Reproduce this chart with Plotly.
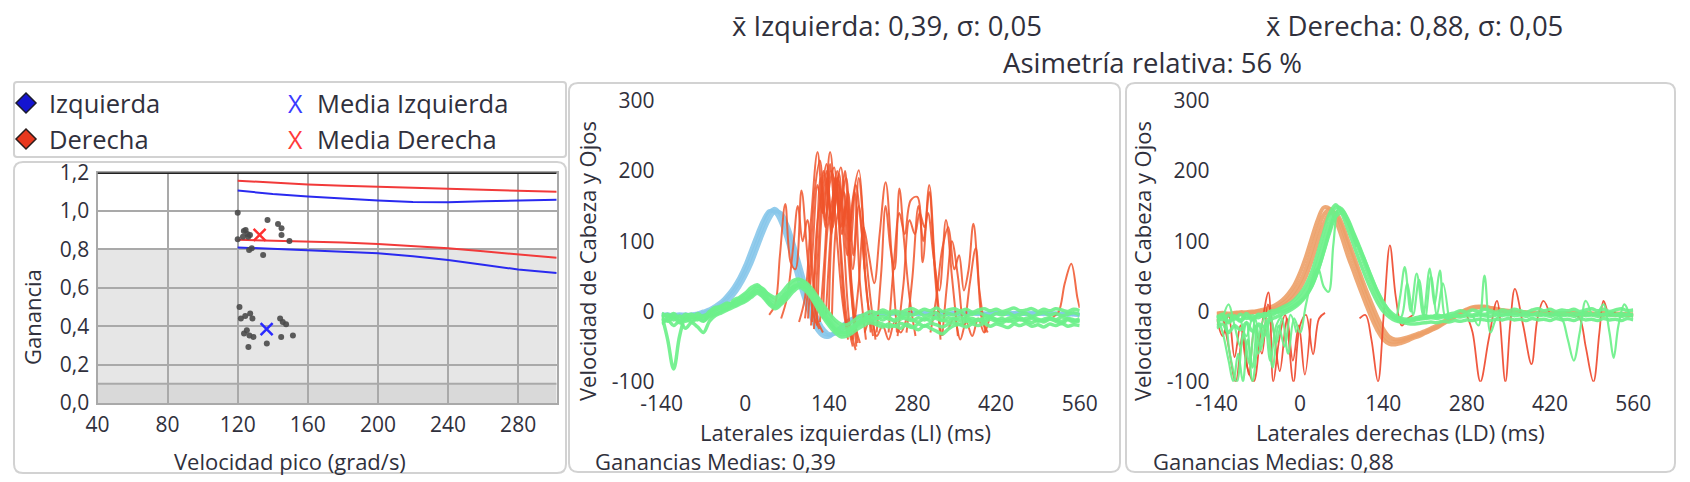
import plotly.graph_objects as go

W, H = 1690, 482
def px(x): return x / W
def py(y): return 1 - y / H

FONT = "Open Sans"
TXT = "#30303c"

# ---------------- data: left panel (gain vs peak head velocity) ----------------
izq_vel  = [121, 121.8, 124.3, 127.1, 128.4, 125.2, 126.7, 129, 126.1, 136.6, 144.2, 145.7, 147.6, 144.8, 151.5, 123.6]
izq_gain = [0.50, 0.44, 0.453, 0.466, 0.44, 0.379, 0.352, 0.344, 0.292, 0.31, 0.44, 0.422, 0.41, 0.344, 0.352, 0.362]
der_vel  = [120, 123.5, 124.5, 125.5, 126, 127, 123, 137, 143, 145, 145, 149.5, 120, 126.5, 128, 134.5]
der_gain = [0.99, 0.895, 0.90, 0.88, 0.866, 0.875, 0.866, 0.953, 0.932, 0.91, 0.875, 0.843, 0.853, 0.797, 0.805, 0.77]
media_izq = [136.5, 0.385]
media_der = [132.5, 0.875]
line_vel  = [120, 140, 160, 180, 200, 220, 240, 260, 280, 302]
der_upper = [1.157, 1.147, 1.138, 1.131, 1.125, 1.12, 1.115, 1.11, 1.105, 1.10]
izq_upper = [1.106, 1.088, 1.075, 1.063, 1.054, 1.047, 1.045, 1.05, 1.055, 1.058]
der_lower = [0.85, 0.846, 0.842, 0.836, 0.828, 0.818, 0.805, 0.79, 0.773, 0.756]
izq_lower = [0.81, 0.803, 0.796, 0.788, 0.779, 0.764, 0.744, 0.72, 0.695, 0.677]
vel_ticks  = [40, 80, 120, 160, 200, 240, 280]
gain_ticks = [0.0, 0.2, 0.4, 0.6, 0.8, 1.0, 1.2]
gain_ticktext = ["0,0", "0,2", "0,4", "0,6", "0,8", "1,0", "1,2"]

# ---------------- data: impulse traces (time in ms, velocity in deg/s) ----------------
T = list(range(-140, 561, 10))
time_ticks = [-140, 0, 140, 280, 420, 560]
time_ticktext = ["-140", "0", "140", "280", "420", "560"]
vel_ticks_imp = [-100, 0, 100, 200, 300]
vel_ticktext_imp = ["-100", "0", "100", "200", "300"]

# Left impulses: head (light blue)
li_head_1 = [-6,-5,-7,-6,-5,-5,-4,-2,1,5,
             11,19,29,42,58,78,100,122,140,146,
             137,116,88,58,28,3,-18,-30,-34,-30,
             -23,-16,-10,-7,-5,-4,-4,-3,-3,-3,
             -4,-3,-2,-3,-3,-2,-3,-4,-3,-2,
             -3,-3,-2,-3,-4,-3,-2,-3,-3,-2,
             -3,-4,-3,-3,-2,-3,-4,-3,-3,-4,
             -5]
li_head_2 = [-4,-6,-5,-4,-6,-4,-3,0,3,8,
             14,23,34,48,66,88,110,130,143,141,
             126,102,72,42,15,-8,-26,-35,-36,-30,
             -22,-15,-10,-7,-5,-4,-3,-4,-3,-2,
             -3,-4,-3,-3,-2,-3,-4,-2,-3,-3,
             -4,-3,-2,-3,-3,-4,-3,-2,-3,-3,
             -4,-3,-2,-3,-4,-3,-3,-4,-5,-4,
             -4]
li_head_3 = [-5,-4,-6,-5,-4,-6,-5,-3,-1,2,
             7,14,23,35,50,68,90,112,131,142,
             140,124,99,70,40,14,-8,-24,-32,-32,
             -27,-20,-14,-9,-6,-5,-4,-3,-4,-3,
             -2,-3,-3,-4,-2,-3,-3,-2,-4,-3,
             -3,-2,-3,-4,-3,-3,-2,-3,-4,-3,
             -2,-3,-4,-3,-2,-3,-3,-4,-3,-4,
             -5]
# Left impulses: eye (green)
li_eye_1 = [-8,-4,-12,-6,-14,-8,-12,-6,-4,2,
            6,10,12,15,20,26,33,28,16,11,
            18,30,40,45,40,28,14,0,-12,-22,
            -28,-27,-22,-15,-10,-6,-3,-1,-4,-2,
            -6,-3,-5,-2,-6,-4,-2,-7,-3,-5,
            -1,-6,-4,-2,-5,-7,-3,-5,-2,-6,
            -4,-3,-7,-4,-2,-5,-3,-6,-4,-2,
            -5]
li_eye_2 = [-14,-10,-6,-13,-9,-12,-7,-10,-6,-2,
            2,7,13,18,24,30,36,32,22,15,
            20,27,35,40,37,30,18,6,-6,-16,
            -23,-24,-20,-14,-9,-8,-10,-7,-11,-12,
            -8,-11,-13,-9,-12,-8,-10,-13,-9,-11,
            -8,-12,-10,-13,-9,-8,-11,-13,-10,-8,
            -12,-10,-8,-11,-13,-10,-12,-8,-11,-13,
            -10]
li_eye_3 = [-5,-40,-82,-35,-8,-4,-9,-14,-3,4,
            8,12,8,12,16,22,28,22,12,8,
            15,24,34,38,33,22,8,-5,-16,-26,
            -33,-32,-26,-18,-14,-12,-9,-12,-8,-14,
            -11,-7,-12,-15,-10,-13,-8,-12,-14,-10,
            -13,-8,-14,-11,-13,-8,-12,-10,-14,-11,
            -9,-13,-10,-14,-11,-9,-12,-14,-10,-12,
            -14]
li_eye_4 = [-2,-8,-3,-10,-4,-9,-3,-8,0,6,
            4,3,16,20,26,34,38,30,24,20,
            26,36,44,46,42,34,22,10,-2,-12,
            -18,-19,-14,-8,-4,0,-2,2,-1,1,
            -1,2,4,0,3,1,5,0,2,4,
            1,3,-1,2,4,1,3,0,2,5,
            1,2,4,0,3,1,4,2,0,3,
            1]
li_eye_5 = [-10,-14,-9,-16,-11,-15,-10,-13,-8,-4,
            0,5,10,14,18,24,30,26,14,6,
            12,22,32,37,34,25,12,-2,-14,-24,
            -30,-30,-25,-19,-14,-12,-15,-18,-22,-20,
            -24,-18,-22,-26,-20,-24,-28,-32,-25,-20,
            -18,-14,-16,-12,-15,-11,-14,-16,-12,-15,
            -11,-14,-16,-12,-15,-11,-14,-17,-12,-15,
            -13]
li_eye_6 = [-18,-12,-20,-14,-24,-16,-22,-30,-14,-6,
            -2,2,6,10,14,20,26,20,10,4,
            10,18,28,34,30,20,6,-8,-20,-30,
            -36,-35,-30,-24,-19,-16,-19,-22,-18,-21,
            -17,-20,-23,-18,-21,-17,-19,-22,-18,-16,
            -19,-22,-18,-20,-17,-21,-18,-20,-23,-18,
            -20,-17,-21,-19,-22,-18,-20,-17,-21,-19,
            -20]
# Left impulses: saccades (red), each (time list, velocity list)
li_sacc = [
    ([40,50,58,67,76,84,94,104,114,124], [-5,10,80,153,70,60,172,80,-5,-25]),
    ([60,70,80,88,96,104,112,120,130], [-10,20,90,150,100,130,60,-10,-30]),
    ([90,100,110,121,131,142,152,162,172], [-15,20,130,227,140,227,120,20,-40]),
    ([100,108,116,125,134,143,151,160,170,180], [-10,60,170,215,130,200,180,90,-10,-50]),
    ([105,113,121,129,137,145,153,161,170,180], [-10,90,180,140,190,130,170,60,-20,-40]),
    ([110,118,126,134,142,150,157,165,175,185], [-20,70,190,120,210,150,196,100,-20,-55]),
    ([112,120,128,136,144,152,160,168,178,188], [-15,120,170,210,130,190,120,150,40,-45]),
    ([115,123,131,139,147,155,163,171,180,190,200], [-25,100,200,160,120,190,150,80,160,201,60]),
    ([120,128,136,144,152,160,168,176,186], [-20,140,200,110,175,205,130,40,-50]),
    ([125,133,141,149,157,165,173,182,192], [-15,80,180,205,140,170,100,-10,-45]),
    ([130,138,146,154,162,170,180,190,200,210], [-10,120,160,200,110,160,60,150,60,-30]),
    ([135,143,151,159,167,175,183,192,202], [-5,110,190,150,200,120,170,40,-40]),
    ([140,148,156,164,172,181,190,199,208,218], [0,150,180,120,170,80,190,110,30,-40]),
    ([145,153,161,169,177,185,194,204,214], [-10,130,160,190,100,180,120,20,-35]),
    ([180,190,198,207,216,225,235,245,254], [-40,40,120,80,40,110,184,80,-30]),
    ([200,210,220,230,240,250,260,270], [-30,-10,-35,-20,-40,-15,-30,-10]),
    ([220,228,235,243,250,258,266,275,285], [-30,60,150,90,60,175,100,20,-35]),
    ([240,249,258,267,277,288,297,308,318,328], [-30,70,140,110,158,163,70,180,60,-35]),
    ([255,265,275,284,292,300,308,317,327], [-35,40,130,110,140,120,170,60,-40]),
    ([270,280,290,298,306,315,325,336,346,356], [-30,50,150,100,140,80,30,130,50,-35]),
    ([310,320,330,340,350,358,366,374,382,392,402], [-30,20,90,120,60,80,30,60,125,30,-30]),
    ([330,338,346,356,366,376,386,396,406], [-35,40,100,50,-20,40,90,-10,-30]),
    ([340,350,360,370,380,390,400,410], [-25,-10,-40,-15,-35,-10,-30,-5]),
    ([515,525,535,546,556,560], [-8,0,40,68,20,5]),
]

# Right impulses: head (orange)
ld_head_1 = [-4,-3,-5,-3,-2,-3,-1,0,1,3,
             6,11,18,28,42,62,88,116,138,146,
             138,120,95,72,48,24,2,-18,-34,-42,
             -43,-42,-39,-36,-33,-30,-26,-22,-17,-12,
             -7,-2,2,5,6,6,5,3,1,0,
             -1,-2,-2,-3,-3,-2,-3,-3,-4,-3,
             -3,-4,-3,-4,-4,-3,-4,-5,-4,-5,
             -5]
ld_head_2 = [-6,-5,-6,-4,-4,-2,-2,1,3,6,
             10,16,25,37,55,78,105,131,148,146,
             130,106,80,57,34,12,-9,-27,-40,-46,
             -47,-45,-42,-38,-35,-31,-27,-23,-18,-13,
             -8,-3,1,4,6,5,4,2,0,-1,
             -2,-2,-3,-3,-4,-3,-4,-4,-3,-4,
             -4,-5,-4,-3,-4,-5,-4,-4,-5,-4,
             -6]
ld_head_3 = [-3,-2,-3,-2,-1,-1,0,0,0,1,
             3,7,13,21,33,50,73,100,125,140,
             140,126,103,80,56,33,12,-8,-25,-36,
             -40,-39,-37,-34,-31,-28,-24,-20,-15,-10,
             -5,-1,3,6,7,7,5,4,2,1,
             0,-1,-1,-2,-2,-1,-2,-2,-3,-2,
             -2,-3,-2,-3,-3,-2,-3,-3,-3,-4,
             -4]
# Right impulses: eye (green)
ld_eye_1 = [-10,-4,-14,-6,-12,-3,-10,-5,-8,-3,
            -1,2,6,11,19,30,46,70,98,127,
            148,146,130,108,86,63,41,21,6,-4,
            -9,-12,-13,-12,-10,-9,-7,-8,-6,-7,
            -5,-6,-4,-5,-3,-4,-2,-4,-3,-5,
            -2,-4,-3,-5,-2,-4,-3,-5,-2,-4,
            -3,-5,-2,-4,-3,-5,-2,-4,-3,-5,
            -4]
ld_eye_2 = [-6,-12,-5,-11,-4,-10,-6,-9,-3,-6,
            -2,0,3,8,14,23,37,58,85,113,
            135,140,128,110,90,70,49,29,13,1,
            -6,-10,-11,-10,-8,-6,-8,-5,-7,-4,
            -2,1,-1,2,0,3,1,-1,2,0,
            3,1,-1,2,4,1,3,0,2,1,
            3,0,2,4,1,3,0,2,4,1,
            2]
ld_eye_3 = [-15,-8,-16,-9,-14,-7,-12,-4,-6,0,
            2,6,10,16,25,38,57,84,113,140,
            152,140,118,95,72,50,30,13,0,-8,
            -13,-15,-14,-13,-11,-10,-9,-10,-8,-9,
            -7,-8,-6,-7,-5,-6,-7,-5,-6,-4,
            -6,-5,-7,-4,-6,-5,-7,-4,-6,-5,
            -7,-4,-6,-5,-7,-4,-6,-5,-7,-4,
            -6]
ld_eye_4 = [-24,-18,-30,-20,-26,-16,-28,-18,-22,-12,
            -8,-4,0,5,12,22,36,58,86,116,
            140,144,132,112,92,70,48,28,12,0,
            -10,-15,-17,-18,-17,-16,-15,-16,-14,-15,
            -13,-14,-12,-13,-11,-12,-13,-11,-12,-10,
            -12,-11,-13,-10,-12,-11,-13,-10,-12,-11,
            -13,-10,-12,-11,-13,-10,-12,-11,-13,-10,
            -12]
ld_eye_noisy = [
    ([-140,-130,-120,-112,-104,-96,-88,-80,-70,-60,-50], [-5,-30,-70,-100,-60,-100,-40,-80,-20,-35,-5]),
    ([-140,-128,-118,-106,-95,-85,-75,-66,-56,-46,-36,-26,-16,-6], [-20,-8,-60,-100,-30,-75,-10,-55,-15,-80,-20,-50,-5,-30]),
    ([-130,-120,-110,-100,-90,-80,-70,-60,-50,-40,-30], [-10,10,-20,-50,-15,-100,-40,-10,-70,-20,-5]),
    ([-100,-90,-80,-70,-60,-50,-40,-30,-20,-10,0,10,20,30,40,48,56,65,75,85,95], [-10,-35,-10,-60,-20,-8,-45,-10,-60,-10,-30,10,45,62,35,28,95,148,138,115,92]),
    ([150,160,168,176,186,196,207,218,226,235,245,255], [-5,-10,20,63,0,54,-5,61,10,58,-10,-8]),
    ([160,170,180,190,200,210,220,230,240,250], [-10,-8,40,-5,45,-10,50,-5,40,-12]),
    ([290,300,310,320,330,340], [-5,-20,51,-30,-10,-5]),
    ([430,440,450,460,470,480,490], [-5,-10,-40,-70,-30,15,-5]),
    ([500,510,520,527,535,545,555,560], [-5,10,-30,-66,-20,10,-5,-8]),
]
ld_sacc = [
    ([-140,-130,-120,-110,-100,-90,-78,-66,-53,-45,-35,-25,-11,0,10,22,32,42], [-10,-35,-5,-65,-20,-75,-100,-30,27,-100,-40,-5,-100,-20,-5,-61,-10,-2]),
    ([-130,-120,-108,-96,-86,-76,-64,-54,-44,-34,-22,-12,-2,8,18], [-5,-50,-100,-30,-90,-20,-60,10,-30,-85,-10,-70,-20,-90,-10]),
    ([100,110,120,131,141,151,161,171,181,190], [-10,-5,-40,-100,0,94,20,-20,-10,-5]),
    ([280,290,303,317,331,345,353,361,375,389,399,409,420], [-5,-30,-100,-40,15,-100,-20,32,-20,-75,-10,15,-5]),
    ([460,470,480,493,503,510,520,530], [-5,-10,-50,-100,-30,15,-5,0]),
]

gain_left, gain_right = 0.39, 0.88
sigma_left, sigma_right = 0.05, 0.05
asym = 56

def es(v):
    return f"{v:.2f}".replace(".", ",")

# ---------------- colours ----------------
C_BLUE_HEAD = "rgba(135,198,234,0.9)"
C_ORANGE_HEAD = "rgba(236,160,104,0.9)"
C_GREEN = "rgba(108,240,138,0.92)"
C_RED_L = "rgba(240,84,42,0.85)"
C_RED_R = "rgba(238,70,42,0.9)"

fig = go.Figure()

# ---------- left panel ----------
for xs, ys, col in [(line_vel, der_upper, "#f23a3a"), (line_vel, der_lower, "#f23a3a"),
                    (line_vel, izq_upper, "#2a2af0"), (line_vel, izq_lower, "#2a2af0")]:
    fig.add_trace(go.Scatter(x=xs, y=ys, mode="lines", line=dict(color=col, width=2),
                             xaxis="x", yaxis="y", showlegend=False, hoverinfo="skip"))
fig.add_trace(go.Scatter(x=izq_vel + der_vel, y=izq_gain + der_gain, mode="markers",
                         marker=dict(color="#4a4a4a", size=6, opacity=0.9),
                         xaxis="x", yaxis="y", showlegend=False))
fig.add_trace(go.Scatter(x=[media_izq[0]], y=[media_izq[1]], mode="markers",
                         marker=dict(symbol="x-thin", size=12, line=dict(color="#2a2aff", width=2.5)),
                         xaxis="x", yaxis="y", showlegend=False))
fig.add_trace(go.Scatter(x=[media_der[0]], y=[media_der[1]], mode="markers",
                         marker=dict(symbol="x-thin", size=12, line=dict(color="#ff3030", width=2.5)),
                         xaxis="x", yaxis="y", showlegend=False))

# ---------- middle panel (left impulses) ----------
for ys in (li_head_1, li_head_2, li_head_3):
    fig.add_trace(go.Scatter(x=T, y=ys, mode="lines", line=dict(color=C_BLUE_HEAD, width=4, shape="spline"),
                             xaxis="x2", yaxis="y2", showlegend=False, hoverinfo="skip"))
for xs, ys in li_sacc:
    fig.add_trace(go.Scatter(x=xs, y=ys, mode="lines", line=dict(color=C_RED_L, width=2, shape="spline"),
                             xaxis="x2", yaxis="y2", showlegend=False, hoverinfo="skip"))
for ys in (li_eye_6, li_eye_5, li_eye_3, li_eye_2, li_eye_1, li_eye_4):
    fig.add_trace(go.Scatter(x=T, y=ys, mode="lines", line=dict(color=C_GREEN, width=3.5, shape="spline"),
                             xaxis="x2", yaxis="y2", showlegend=False, hoverinfo="skip"))

# ---------- right panel (right impulses) ----------
for ys in (ld_head_1, ld_head_2, ld_head_3):
    fig.add_trace(go.Scatter(x=T, y=ys, mode="lines", line=dict(color=C_ORANGE_HEAD, width=4, shape="spline"),
                             xaxis="x3", yaxis="y3", showlegend=False, hoverinfo="skip"))
for xs, ys in ld_sacc:
    fig.add_trace(go.Scatter(x=xs, y=ys, mode="lines", line=dict(color=C_RED_R, width=1.8, shape="spline"),
                             xaxis="x3", yaxis="y3", showlegend=False, hoverinfo="skip"))
for xs, ys in ld_eye_noisy:
    fig.add_trace(go.Scatter(x=xs, y=ys, mode="lines", line=dict(color=C_GREEN, width=2.2, shape="spline"),
                             xaxis="x3", yaxis="y3", showlegend=False, hoverinfo="skip"))
for ys in (ld_eye_4, ld_eye_3, ld_eye_2, ld_eye_1):
    fig.add_trace(go.Scatter(x=T, y=ys, mode="lines", line=dict(color=C_GREEN, width=3.5, shape="spline"),
                             xaxis="x3", yaxis="y3", showlegend=False, hoverinfo="skip"))

# ---------- axes ----------
tickfont = dict(family=FONT, size=21, color=TXT)
common_imp_x = dict(range=[time_ticks[0], time_ticks[-1]], tickvals=time_ticks, ticktext=time_ticktext,
                    showgrid=False, zeroline=False, showline=False, ticks="outside", ticklen=3,
                    tickcolor="rgba(0,0,0,0)", tickfont=tickfont, automargin=False)
common_imp_y = dict(range=[vel_ticks_imp[0], vel_ticks_imp[-1]], tickvals=vel_ticks_imp, ticktext=vel_ticktext_imp,
                    showgrid=False, zeroline=False, showline=False, ticks="outside", ticklen=2,
                    tickcolor="rgba(0,0,0,0)", tickfont=tickfont, automargin=False)

fig.update_layout(
    width=W, height=H, margin=dict(l=0, r=0, t=0, b=0, autoexpand=False),
    paper_bgcolor="white", plot_bgcolor="white", showlegend=False, hovermode=False,
    xaxis=dict(domain=[px(97.5), px(556.7)], range=[40, 302], tickvals=vel_ticks,
               showgrid=True, gridcolor="#a9a9a9", gridwidth=2, zeroline=False,
               showline=True, linecolor="#a9a9a9", linewidth=2, mirror=True,
               ticks="outside", ticklen=2, tickcolor="rgba(0,0,0,0)", tickfont=tickfont, automargin=False),
    yaxis=dict(domain=[py(403), py(172.5)], range=[0, 1.2], tickvals=gain_ticks, ticktext=gain_ticktext,
               showgrid=True, gridcolor="#a9a9a9", gridwidth=2, zeroline=False,
               showline=True, linecolor="#a9a9a9", linewidth=2, mirror=True,
               ticks="outside", ticklen=2, tickcolor="rgba(0,0,0,0)", tickfont=tickfont, automargin=False),
    xaxis2=dict(domain=[px(661.7), px(1079.7)], anchor="y2", **common_imp_x),
    yaxis2=dict(domain=[py(381.7), py(100.7)], anchor="x2", **common_imp_y),
    xaxis3=dict(domain=[px(1216.7), px(1633.3)], anchor="y3", **common_imp_x),
    yaxis3=dict(domain=[py(381.7), py(100.7)], anchor="x3", **common_imp_y),
)

# ---------- shapes ----------
def rrect(x0, y0, x1, y1, r):
    P = lambda x, y: f"{px(x):.6f},{py(y):.6f}"
    return (f"M {P(x0+r,y0)} L {P(x1-r,y0)} Q {P(x1,y0)} {P(x1,y0+r)} "
            f"L {P(x1,y1-r)} Q {P(x1,y1)} {P(x1-r,y1)} L {P(x0+r,y1)} "
            f"Q {P(x0,y1)} {P(x0,y1-r)} L {P(x0,y0+r)} Q {P(x0,y0)} {P(x0+r,y0)} Z")

def diamond(cx, cy, r):
    P = lambda x, y: f"{px(x):.6f},{py(y):.6f}"
    return f"M {P(cx, cy-r)} L {P(cx+r, cy)} L {P(cx, cy+r)} L {P(cx-r, cy)} Z"

shapes = []
for (x0, y0, x1, y1, r) in [(14, 82, 566, 157, 3), (14, 162, 566, 473, 9),
                            (569, 83, 1120, 472, 9), (1126, 83, 1675, 472, 9)]:
    shapes.append(dict(type="path", path=rrect(x0, y0, x1, y1, r), xref="paper", yref="paper",
                       line=dict(color="#d2d2d2", width=2), layer="below"))
shapes += [
    dict(type="path", path=diamond(26, 103, 10), xref="paper", yref="paper",
         fillcolor="#1414d0", line=dict(color="#1c1c2c", width=1.5)),
    dict(type="path", path=diamond(26, 139, 10), xref="paper", yref="paper",
         fillcolor="#e8381e", line=dict(color="#2a1c1c", width=1.5)),
    dict(type="rect", xref="x", yref="y", x0=40, x1=302, y0=0.1, y1=0.8,
         fillcolor="#e6e6e6", line=dict(width=0), layer="below"),
    dict(type="rect", xref="x", yref="y", x0=40, x1=302, y0=0.0, y1=0.1,
         fillcolor="#d9d9d9", line=dict(width=0), layer="below"),
    dict(type="line", xref="x", yref="y", x0=40, x1=302, y0=0.1, y1=0.1,
         line=dict(color="#a9a9a9", width=2), layer="below"),
    dict(type="line", xref="x", yref="y", x0=40, x1=302, y0=1.2, y1=1.2,
         line=dict(color="#222222", width=3), layer="above"),
]
fig.update_layout(shapes=shapes)

# ---------- text ----------
def ann(text, x, y, size=22, xanchor="center", color=TXT, textangle=0, family=FONT):
    return dict(text=text, x=px(x), y=py(y), xref="paper", yref="paper", showarrow=False,
                xanchor=xanchor, yanchor="middle", textangle=textangle,
                font=dict(family=family, size=size, color=color))

anns = [
    ann(f"x\u0304 Izquierda: {es(gain_left)}, \u03c3: {es(sigma_left)}", 887, 25, size=27.5),
    ann(f"x\u0304 Derecha: {es(gain_right)}, \u03c3: {es(sigma_right)}", 1414, 25, size=27.5),
    ann(f"Asimetría relativa: {asym} %", 1152, 63, size=27.5),
    # legend
    ann("Izquierda", 47, 103, size=25.5, xanchor="left"),
    ann("Derecha", 47, 139, size=25.5, xanchor="left"),
    ann("X", 295, 103, size=25, color="#3a3aff"),
    ann("Media Izquierda", 315, 103, size=25.5, xanchor="left"),
    ann("X", 295, 139, size=25, color="#ff3a3a"),
    ann("Media Derecha", 315, 139, size=25.5, xanchor="left"),
    # axis titles
    ann("Ganancia", 32, 317, textangle=-90),
    ann("Velocidad pico (grad/s)", 290, 461),
    ann("Velocidad de Cabeza y Ojos", 587, 261, textangle=-90),
    ann("Laterales izquierdas (LI) (ms)", 845, 432),
    ann("Velocidad de Cabeza y Ojos", 1142, 261, textangle=-90),
    ann("Laterales derechas (LD) (ms)", 1400, 432),
    ann(f"Ganancias Medias: {es(gain_left)}", 593, 461, xanchor="left"),
    ann(f"Ganancias Medias: {es(gain_right)}", 1151, 461, xanchor="left"),
]
fig.update_layout(annotations=anns)

fig.write_html("out.html", config={"displayModeBar": False, "staticPlot": True},
               post_script="document.body.style.margin='0px';document.body.style.padding='0px';"
                           "document.body.style.overflow='hidden';")
